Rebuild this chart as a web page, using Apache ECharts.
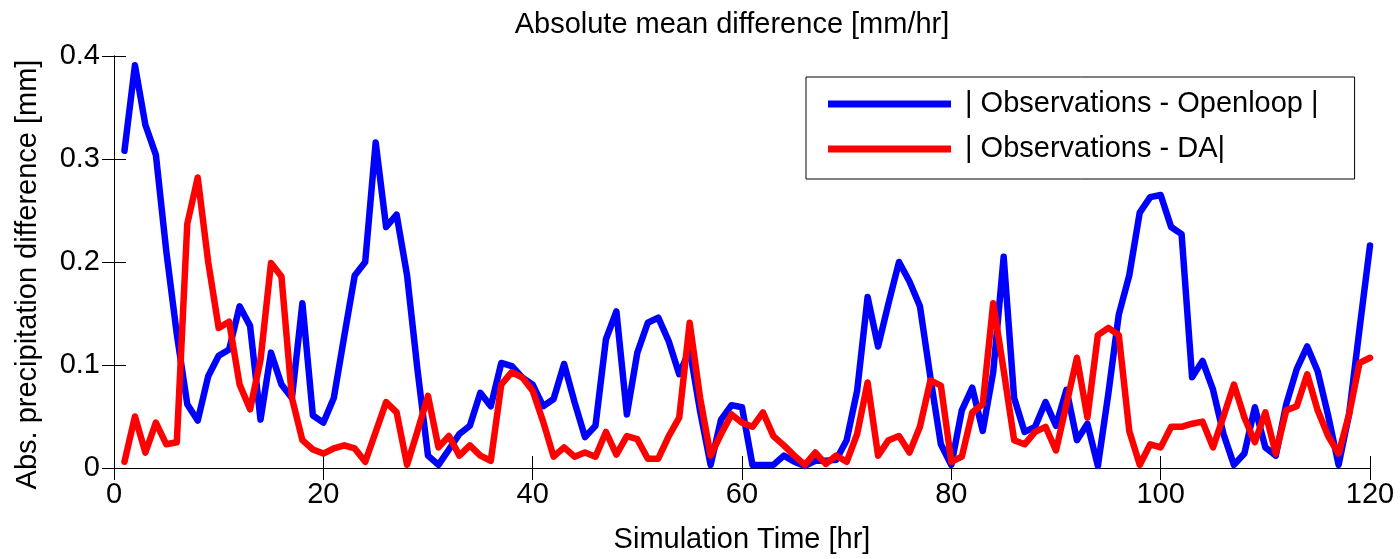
<!DOCTYPE html>
<html>
<head>
<meta charset="utf-8">
<script src="https://cdn.jsdelivr.net/npm/echarts@6/dist/echarts.min.js"></script>
<style>
html,body{margin:0;padding:0;background:#fff;}
#chart{width:1400px;height:559px;}
</style>
</head>
<body>
<div id="chart"></div>
<script>
const titleText = 'Absolute mean difference [mm/hr]';
const xName = 'Simulation Time [hr]';
const yName = 'Abs. precipitation difference [mm]';
const seriesNames = ['| Observations - Openloop |', '| Observations - DA|'];
const xTicks = [0, 20, 40, 60, 80, 100, 120];
const yTicks = [0, 0.1, 0.2, 0.3, 0.4];

const hours = [1,2,3,4,5,6,7,8,9,10,11,12,13,14,15,16,17,18,19,20,
21,22,23,24,25,26,27,28,29,30,31,32,33,34,35,36,37,38,39,40,
41,42,43,44,45,46,47,48,49,50,51,52,53,54,55,56,57,58,59,60,
61,62,63,64,65,66,67,68,69,70,71,72,73,74,75,76,77,78,79,80,
81,82,83,84,85,86,87,88,89,90,91,92,93,94,95,96,97,98,99,100,
101,102,103,104,105,106,107,108,109,110,111,112,113,114,115,116,117,118,119,120];

const openloop = [
0.308,0.391,0.333,0.304,0.210,0.130,0.062,0.046,0.089,0.109,
0.115,0.157,0.138,0.047,0.112,0.081,0.068,0.160,0.051,0.044,
0.068,0.128,0.187,0.200,0.316,0.234,0.246,0.187,0.095,0.012,
0.003,0.018,0.033,0.041,0.073,0.060,0.102,0.099,0.088,0.081,
0.060,0.067,0.101,0.064,0.030,0.041,0.125,0.152,0.052,0.112,
0.141,0.146,0.123,0.091,0.115,0.055,0.003,0.047,0.061,0.059,
0.003,0.003,0.003,0.012,0.006,0.002,0.007,0.007,0.008,0.027,
0.075,0.166,0.118,0.160,0.200,0.181,0.157,0.088,0.023,0.003,
0.056,0.078,0.036,0.093,0.205,0.068,0.035,0.040,0.064,0.041,
0.076,0.027,0.043,0.002,0.072,0.149,0.187,0.248,0.263,0.265,
0.234,0.227,0.088,0.104,0.076,0.033,0.003,0.014,0.059,0.020,
0.012,0.062,0.096,0.118,0.094,0.051,0.003,0.052,0.135,0.216];

const da = [
0.006,0.050,0.015,0.044,0.023,0.025,0.237,0.282,0.200,0.136,
0.142,0.081,0.057,0.105,0.199,0.186,0.068,0.027,0.018,0.014,
0.019,0.022,0.019,0.006,0.035,0.064,0.054,0.003,0.036,0.070,
0.020,0.031,0.012,0.022,0.012,0.007,0.081,0.093,0.088,0.075,
0.045,0.011,0.020,0.011,0.015,0.011,0.035,0.013,0.031,0.028,
0.009,0.009,0.031,0.049,0.141,0.068,0.012,0.033,0.052,0.044,
0.040,0.054,0.031,0.022,0.012,0.003,0.015,0.004,0.012,0.006,
0.033,0.083,0.012,0.027,0.031,0.015,0.040,0.085,0.080,0.006,
0.011,0.054,0.062,0.160,0.095,0.027,0.023,0.035,0.040,0.017,
0.062,0.107,0.049,0.129,0.136,0.129,0.036,0.003,0.023,0.020,
0.040,0.040,0.043,0.045,0.020,0.050,0.081,0.049,0.025,0.054,
0.014,0.056,0.060,0.091,0.056,0.031,0.014,0.052,0.102,0.107];

const FONT = '"Liberation Sans", Arial, sans-serif';
const FS = 29;
const chart = echarts.init(document.getElementById('chart'), null, {renderer: 'canvas'});

const xMin = xTicks[0], xMax = xTicks[xTicks.length - 1];
const yMin = yTicks[0], yMax = yTicks[yTicks.length - 1];
const xStep = xTicks[1] - xTicks[0];
const yStep = yTicks[1] - yTicks[0];

const tickStyle = {show: true, inside: true, length: 12, lineStyle: {color: '#000', width: 1}};
const lineAx = {show: true, lineStyle: {color: '#000', width: 1}};

chart.setOption({
  backgroundColor: '#fff',
  animation: false,
  title: {
    text: titleText,
    left: 732, top: 10, padding: 0, textAlign: 'center',
    textStyle: {fontFamily: FONT, fontSize: FS, fontWeight: 'normal', color: '#000'}
  },
  grid: {left: 114, right: 30, top: 56, bottom: 88, containLabel: false},
  legend: {
    orient: 'vertical',
    left: 806, top: 77,
    padding: [12, 36, 15, 22],
    itemWidth: 123, itemHeight: 7, itemGap: 15,
    icon: 'rect',
    borderColor: '#000', borderWidth: 1, backgroundColor: '#fff',
    textStyle: {fontFamily: FONT, fontSize: FS, color: '#000', lineHeight: 30, padding: [0, 0, 0, 9]},
    data: seriesNames
  },
  xAxis: [
    {
      type: 'value', min: xMin, max: xMax, interval: xStep, position: 'bottom',
      name: xName, nameLocation: 'middle', nameGap: 57,
      nameTextStyle: {fontFamily: FONT, fontSize: FS, color: '#000'},
      axisLine: lineAx, axisTick: tickStyle,
      axisLabel: {fontFamily: FONT, fontSize: FS, color: '#000', margin: 12},
      splitLine: {show: false}
    },
    {
      type: 'value', min: xMin, max: xMax, interval: xStep, position: 'top',
      axisLine: lineAx, axisTick: tickStyle, axisLabel: {show: false}, splitLine: {show: false}
    }
  ],
  yAxis: [
    {
      type: 'value', min: yMin, max: yMax, interval: yStep, position: 'left',
      name: yName, nameLocation: 'middle', nameGap: 72, nameRotate: 90,
      nameTextStyle: {fontFamily: FONT, fontSize: FS, color: '#000', padding: [0, 25, 0, 0]},
      axisLine: lineAx, axisTick: tickStyle,
      axisLabel: {fontFamily: FONT, fontSize: FS, color: '#000', margin: 14},
      splitLine: {show: false}
    },
    {
      type: 'value', min: yMin, max: yMax, interval: yStep, position: 'right',
      axisLine: lineAx, axisTick: tickStyle, axisLabel: {show: false}, splitLine: {show: false}
    }
  ],
  series: [
    {
      name: seriesNames[0], type: 'line', xAxisIndex: 0, yAxisIndex: 0,
      data: hours.map((h, i) => [h, openloop[i]]),
      showSymbol: false, symbol: 'none', clip: true,
      lineStyle: {color: '#0000ff', width: 6.5, join: 'round', cap: 'round'},
      itemStyle: {color: '#0000ff'}
    },
    {
      name: seriesNames[1], type: 'line', xAxisIndex: 0, yAxisIndex: 0,
      data: hours.map((h, i) => [h, da[i]]),
      showSymbol: false, symbol: 'none', clip: true,
      lineStyle: {color: '#ff0000', width: 6.5, join: 'round', cap: 'round'},
      itemStyle: {color: '#ff0000'}
    }
  ]
});
</script>
</body>
</html>
